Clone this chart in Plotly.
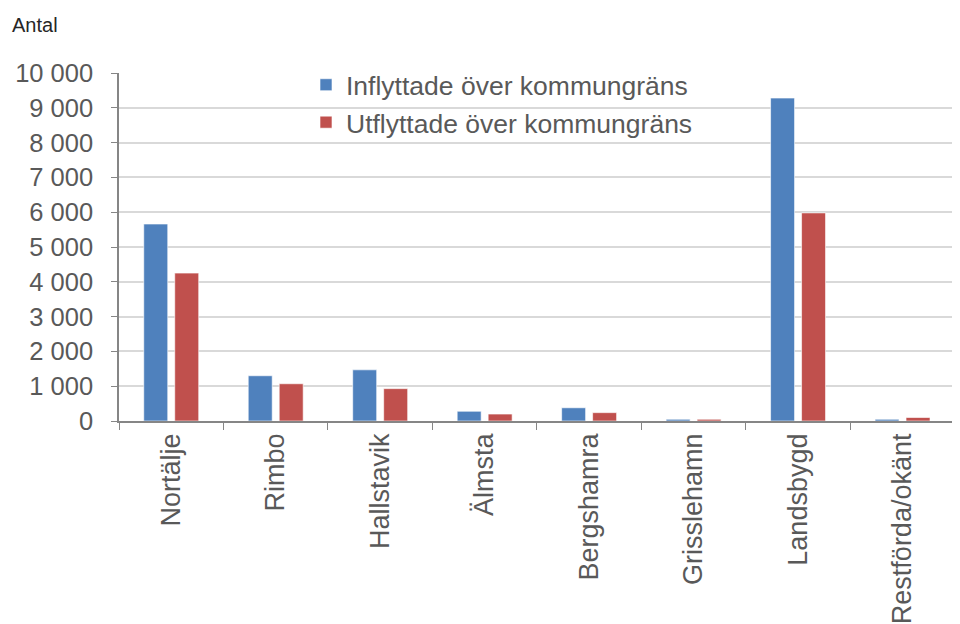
import plotly.graph_objects as go

categories = ["Nortälje", "Rimbo", "Hallstavik", "Älmsta", "Bergshamra",
              "Grisslehamn", "Landsbygd", "Restförda/okänt"]
inflyttade = [5660, 1300, 1470, 280, 380, 50, 9280, 50]
utflyttade = [4250, 1070, 930, 200, 240, 50, 5980, 100]
series_names = ["Inflyttade över kommungräns", "Utflyttade över kommungräns"]
y_tick_values = [0, 1000, 2000, 3000, 4000, 5000, 6000, 7000, 8000, 9000, 10000]

FONT = "Liberation Sans, Arial, sans-serif"
GRAY = "#595959"

# page body has an 8px offset; margins are in figure coordinates
ML, MR, MT, MB = 111, 8, 65, 211
PW = 960 - ML - MR
PH = 624 - MT - MB

fig = go.Figure()
fig.add_trace(go.Bar(x=categories, y=inflyttade, name=series_names[0],
                     marker=dict(color="#4F81BD", line=dict(color="rgba(255,255,255,0.6)", width=1)),
                     legendgroup="a"))
fig.add_trace(go.Bar(x=categories, y=utflyttade, name=series_names[1],
                     marker=dict(color="#C0504D", line=dict(color="rgba(255,255,255,0.6)", width=1)),
                     legendgroup="b"))

fig.update_layout(
    width=960, height=624,
    margin=dict(l=ML, r=MR, t=MT, b=MB, autoexpand=False),
    paper_bgcolor="white", plot_bgcolor="white",
    barmode="group", bargap=0.407, bargroupgap=0.226,
    separators=", ",
    font=dict(family=FONT, color=GRAY, size=24),
    showlegend=True,
    legend=dict(x=(298 - ML) / PW, y=1 + (MT - 53) / PH, xanchor="left", yanchor="top",
                font=dict(size=26.5, color=GRAY), bgcolor="rgba(0,0,0,0)",
                tracegroupgap=16, traceorder="normal"),
)
fig.add_annotation(text="Antal", xref="paper", yref="paper",
                   x=(2 - ML) / PW, y=1 + (MT - 17) / PH, xanchor="left", yanchor="middle",
                   showarrow=False, font=dict(size=20, color="#262626", family=FONT))

fig.update_yaxes(range=[0, 10000], tickvals=y_tick_values, tickformat=",d",
                 showgrid=True, gridcolor="#D9D9D9", gridwidth=1.5,
                 showline=True, linecolor="#868686", linewidth=1.5,
                 ticks="outside", ticklen=6, tickcolor="#868686",
                 ticklabelstandoff=13, automargin=False,
                 tickfont=dict(size=25.5, color=GRAY), zeroline=False)
fig.update_xaxes(range=[-0.5, 7.55], showgrid=False, showline=True, linecolor="#868686", linewidth=1.5,
                 ticks="outside", ticklen=7, tickcolor="#868686", tickson="boundaries",
                 tickangle=-90, automargin=False, tickfont=dict(size=27, color=GRAY))

fig.write_html("out.html")
